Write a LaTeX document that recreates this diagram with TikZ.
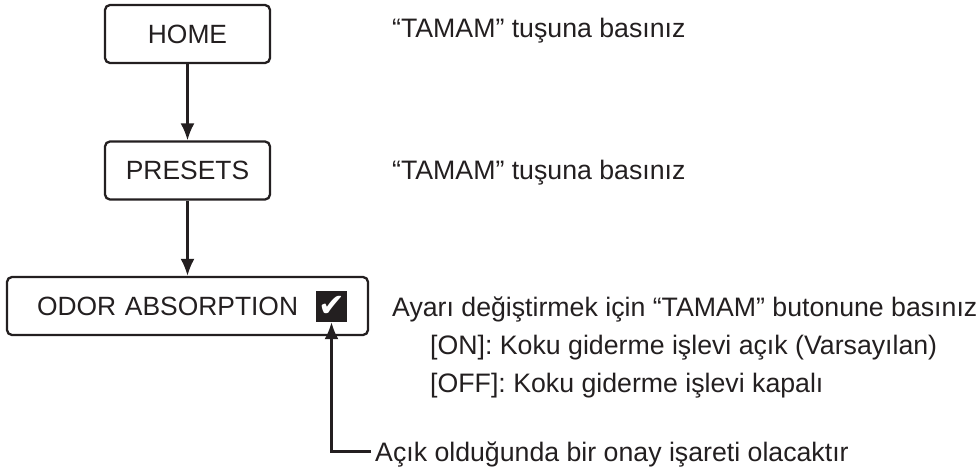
\documentclass[tikz,border=0pt]{standalone}
\usepackage{fontspec}
\setmainfont{Liberation Sans}
\newfontfamily\symfont{DejaVu Sans}
\usetikzlibrary{arrows.meta}
\definecolor{ink}{HTML}{231F20}
\tikzset{
  box/.style={draw=ink, line width=2.3pt, rounded corners=5pt, minimum height=58pt, inner sep=0pt, text height=18.8pt, text depth=0pt, font=\fontsize{26.4}{31}\selectfont},
  arr/.style={draw=ink, line width=2.3pt, -{Latex[length=17pt,width=14pt]}},
  note/.style={anchor=base west, inner sep=0pt, text height=19pt, text depth=0pt, font=\fontsize{26.7}{32}\selectfont}
}
\begin{document}
\begin{tikzpicture}[x=1pt, y=-1pt, every node/.style={text=ink}]
\useasboundingbox (0,0) rectangle (978,470);
\node[box, minimum width=165pt] (home) at (187.5,34) {HOME};
\node[box, minimum width=165pt] (presets) at (187.5,170.5) {PRESETS};
\node[box, minimum width=361pt, inner xsep=30pt, text width=301pt, align=left] (odor) at (187.5,306) {ODOR ABSORPTION};
\node[fill=ink, minimum size=31pt, inner sep=0pt, text=white, font=\symfont\fontsize{32}{32}\selectfont] (check) at (331.5,306.5) {✔};
\draw[arr] (home) -- (presets);
\draw[arr] (presets) -- (odor);
\node[note] (homenote) at (392,38) {“TAMAM” tuşuna basınız};
\node[note] (presetsnote) at (392,180) {“TAMAM” tuşuna basınız};
\node[note] (odornote) at (392,317) {Ayarı değiştirmek için “TAMAM” butonune basınız};
\node[note] (onnote) at (430,355) {[ON]: Koku giderme işlevi açık (Varsayılan)};
\node[note] (offnote) at (430,393) {[OFF]: Koku giderme işlevi kapalı};
\node[note, inner xsep=4pt] (checknote) at (371,461) {Açık olduğunda bir onay işareti olacaktır};
\draw[arr] (checknote.west) -| (check.south);
\end{tikzpicture}
\end{document}
